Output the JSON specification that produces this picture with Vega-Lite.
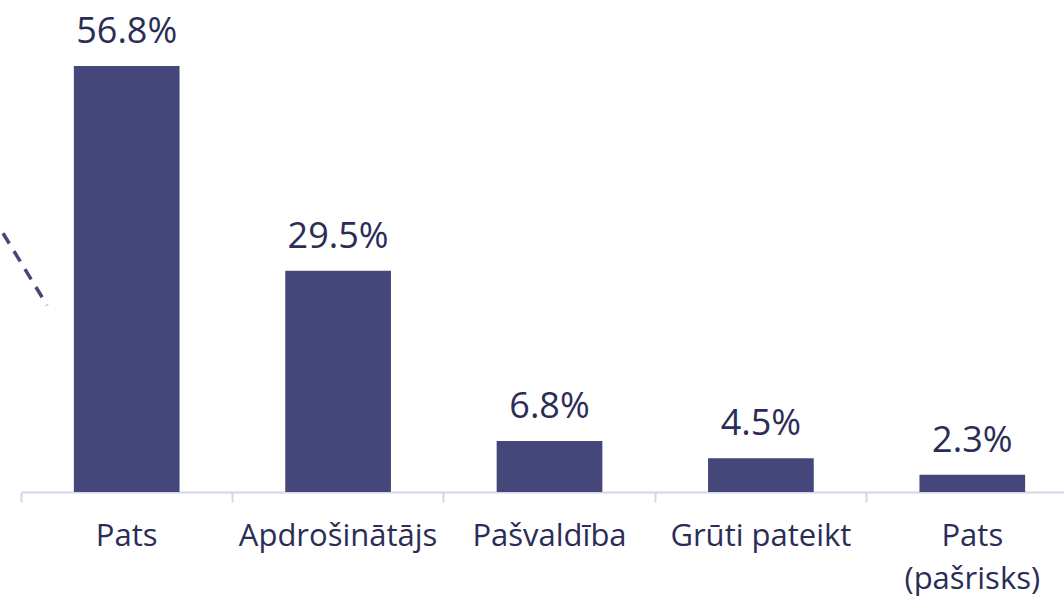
{
  "$schema": "https://vega.github.io/schema/vega-lite/v6.json",
  "width": 1057,
  "height": 450,
  "autosize": "none",
  "padding": {"left": 21, "top": 42, "right": 0, "bottom": 107},
  "background": "white",
  "config": {"view": {"stroke": null}, "font": "Open Sans"},
  "layer": [
    {
      "data": {"values": [
        {"cat": "Pats", "value": 56.8, "label": "56.8%"},
        {"cat": "Apdrošinātājs", "value": 29.5, "label": "29.5%"},
        {"cat": "Pašvaldība", "value": 6.8, "label": "6.8%"},
        {"cat": "Grūti pateikt", "value": 4.5, "label": "4.5%"},
        {"cat": "Pats (pašrisks)", "value": 2.3, "label": "2.3%"}
      ]},
      "encoding": {
        "x": {
          "field": "cat", "type": "nominal", "sort": null,
          "scale": {"paddingInner": 0, "paddingOuter": 0},
          "axis": {
            "title": null, "labelAngle": 0, "bandPosition": 0,
            "domainColor": "#d4d4ea", "domainWidth": 2,
            "tickColor": "#d4d4ea", "tickWidth": 2, "tickSize": 10,
            "labelFont": "Open Sans", "labelFontSize": 31, "labelColor": "#2b2d57",
            "labelPadding": 19, "labelLineHeight": 43, "labelLimit": 0,
            "labelExpr": "datum.value == 'Pats (pašrisks)' ? ['Pats', '(pašrisks)'] : datum.label"
          }
        },
        "y": {
          "field": "value", "type": "quantitative",
          "scale": {"domain": [0, 60]},
          "axis": null
        }
      },
      "layer": [
        {"mark": {"type": "bar", "width": {"band": 0.5}, "color": "#45477b"}},
        {
          "mark": {"type": "text", "font": "Open Sans", "fontSize": 36, "color": "#2b2d57", "baseline": "alphabetic", "dy": -23},
          "encoding": {"text": {"field": "label"}}
        }
      ]
    },
    {
      "data": {"values": [{"x": -0.017, "y": 34.5, "x2": 0.0246, "y2": 24.9}]},
      "mark": {"type": "rule", "color": "#45477b", "strokeWidth": 3.5, "strokeDash": [12, 9]},
      "encoding": {
        "x": {"field": "x", "type": "quantitative", "scale": {"domain": [0, 1]}, "axis": null},
        "x2": {"field": "x2"},
        "y": {"field": "y", "type": "quantitative"},
        "y2": {"field": "y2"}
      }
    }
  ],
  "resolve": {"scale": {"x": "independent"}, "axis": {"x": "independent"}}
}
